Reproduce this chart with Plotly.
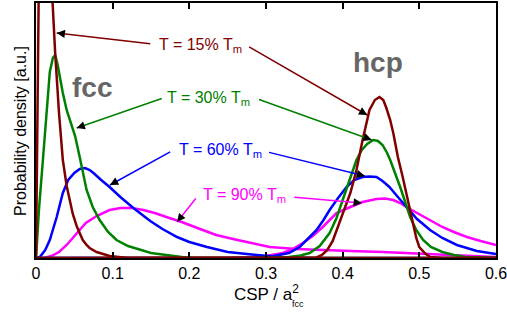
import math
import plotly.graph_objects as go

# ---------------- data (arbitrary density units) ----------------
# T = 15% Tm
red_fcc_x = [0, 0.002, 0.004, 0.007, 0.010, 0.014, 0.018, 0.021, 0.025, 0.030, 0.035, 0.040, 0.044, 0.048, 0.053, 0.057, 0.061, 0.066, 0.070, 0.079, 0.088, 0.096, 0.12, 0.6]
red_fcc_y = [0, 150, 300, 380, 400, 370, 310, 255, 205, 145, 98, 72, 57, 44, 32, 25, 18, 13, 10, 6, 3.5, 2, 0, 0]
red_hcp_x = [0, 0.35, 0.366, 0.373, 0.38, 0.387, 0.394, 0.402, 0.41, 0.418, 0.426, 0.435, 0.442, 0.448, 0.453, 0.457, 0.462, 0.466, 0.472, 0.478, 0.483, 0.488, 0.492, 0.496, 0.50, 0.507, 0.514, 0.53, 0.6]
red_hcp_y = [0, 0, 0.5, 3, 8, 17, 31, 47, 65, 88, 118, 148, 158, 161, 158, 150, 138, 125, 101, 82, 65, 46, 31, 20, 11, 5, 1, 0, 0]

# T = 30% Tm
green_fcc_x = [0, 0.004, 0.009, 0.014, 0.018, 0.022, 0.025, 0.028, 0.031, 0.035, 0.040, 0.045, 0.051, 0.057, 0.062, 0.066, 0.074, 0.083, 0.094, 0.105, 0.12, 0.136, 0.15, 0.17, 0.2, 0.6]
green_fcc_y = [0, 50, 98, 150, 186, 200, 203, 194, 181, 165, 148, 136, 122, 101, 82, 68, 51, 38, 26, 18, 12, 8, 5, 3, 0, 0]
green_hcp_x = [0, 0.31, 0.33, 0.345, 0.357, 0.37, 0.383, 0.392, 0.40, 0.41, 0.418, 0.425, 0.432, 0.44, 0.446, 0.452, 0.458, 0.462, 0.468, 0.475, 0.482, 0.488, 0.496, 0.505, 0.515, 0.53, 0.545, 0.56, 0.6]
green_hcp_y = [0, 0, 1, 2.5, 5, 12, 25, 40, 58, 80, 98, 108, 114, 118, 117, 113, 105, 98, 86, 71, 55, 41, 28, 18, 11, 6, 3, 1, 0]

# T = 60% Tm
blue_fcc_x = [0, 0.005, 0.012, 0.018, 0.027, 0.035, 0.042, 0.050, 0.057, 0.064, 0.070, 0.075, 0.085, 0.096, 0.11, 0.127, 0.149, 0.165, 0.184, 0.2, 0.223, 0.25, 0.288, 0.32, 0.36, 0.6]
blue_fcc_y = [0, 1, 8, 18, 41, 65, 78, 85, 89, 90, 88, 85, 78, 71, 61, 50, 37, 29, 21, 16, 11, 6, 3, 1, 0, 0]
blue_hcp_x = [0, 0.28, 0.31, 0.33, 0.344, 0.355, 0.366, 0.375, 0.383, 0.394, 0.405, 0.415, 0.426, 0.435, 0.444, 0.452, 0.461, 0.472, 0.483, 0.497, 0.514, 0.53, 0.549, 0.575, 0.6]
blue_hcp_y = [0, 0, 2, 5, 11, 19, 28, 38, 48, 60, 71, 78, 81, 81.5, 81, 77, 71, 61, 51, 39, 28, 20, 13, 7, 4]

# T = 90% Tm
mag_fcc_x = [0, 0.01, 0.02, 0.03, 0.04, 0.053, 0.065, 0.079, 0.096, 0.11, 0.125, 0.14, 0.155, 0.17, 0.19, 0.214, 0.235, 0.257, 0.28, 0.305, 0.34, 0.366, 0.41, 0.452, 0.5, 0.54, 0.6]
mag_fcc_y = [0, 0, 2, 6, 13, 25, 35, 42, 48, 50, 50, 48, 45, 41, 36, 29, 23, 19, 15, 11, 9, 8, 7, 6, 4, 3, 1]
mag_hcp_x = [0, 0.25, 0.28, 0.30, 0.322, 0.335, 0.348, 0.361, 0.374, 0.383, 0.392, 0.41, 0.426, 0.444, 0.455, 0.466, 0.475, 0.483, 0.495, 0.505, 0.518, 0.53, 0.545, 0.562, 0.58, 0.6]
mag_hcp_y = [0, 0, 1, 2, 5, 9, 15, 22, 31, 38, 45, 51, 56, 59, 59.5, 58, 55, 51, 46, 41, 36, 31, 26, 21, 17, 13]

series_names = ["T = 15% T<sub>m</sub>", "T = 30% T<sub>m</sub>", "T = 60% T<sub>m</sub>", "T = 90% T<sub>m</sub>"]
series_colors = ["#800000", "#008000", "#0000ff", "#ff00ff"]

# label positions (data coords) and arrow targets: (tail, tip)
label_pos = [(0.214, 213), (0.2256, 160), (0.240, 108), (0.2725, 63)]
arrows = [
    [((0.151, 214), (0.027, 225)), ((0.276, 212), (0.432, 143))],
    [((0.166, 160), (0.053, 130)), ((0.289, 159), (0.438, 118))],
    [((0.177, 107), (0.0965, 73)), ((0.302, 106), (0.429, 82))],
    [((0.210, 61), (0.184, 36)), ((0.335, 61), (0.425, 55))],
]

x_ticks = [0, 0.1, 0.2, 0.3, 0.4, 0.5, 0.6]
x_range = [0, 0.6]
y_range = [0, 255]

# ---------------- figure ----------------
W, H = 507, 320
ML, MR, MT, MB = 36, 11, 3, 62
FONT = "Liberation Sans, Arial, sans-serif"

fig = go.Figure()
curves = [
    (red_fcc_x, red_fcc_y, red_hcp_x, red_hcp_y),
    (green_fcc_x, green_fcc_y, green_hcp_x, green_hcp_y),
    (blue_fcc_x, blue_fcc_y, blue_hcp_x, blue_hcp_y),
    (mag_fcc_x, mag_fcc_y, mag_hcp_x, mag_hcp_y),
]
# draw in reverse so red is on top
for i in reversed(range(4)):
    fx, fy, hx, hy = curves[i]
    for xs, ys in ((fx, fy), (hx, hy)):
        fig.add_trace(go.Scatter(x=xs, y=ys, mode="lines",
                                 line=dict(color=series_colors[i], width=2.5),
                                 showlegend=False, hoverinfo="skip"))

ann = []
pw = W - ML - MR
ph = H - MT - MB
sx = pw / (x_range[1] - x_range[0])
sy = ph / (y_range[1] - y_range[0])
for i in range(4):
    lx, ly = label_pos[i]
    ann.append(dict(x=lx, y=ly, xref="x", yref="y", text=series_names[i], showarrow=False,
                    font=dict(family=FONT, size=16, color=series_colors[i])))
    for (tail, tip) in arrows[i]:
        ann.append(dict(x=tip[0], y=tip[1], ax=tail[0], ay=tail[1], xref="x", yref="y",
                        axref="x", ayref="y", text="", showarrow=True, arrowhead=0,
                        arrowwidth=1.5, arrowcolor=series_colors[i]))
        dx = (tail[0] - tip[0]) * sx
        dy = -(tail[1] - tip[1]) * sy
        n = math.hypot(dx, dy)
        ann.append(dict(x=tip[0], y=tip[1], ax=dx / n * 9, ay=dy / n * 9, xref="x", yref="y",
                        text="", showarrow=True, arrowhead=2, arrowsize=1.1,
                        arrowwidth=1.5, arrowcolor="black"))

ann.append(dict(x=0.073, y=171, xref="x", yref="y", text="<b>fcc</b>", showarrow=False,
                font=dict(family=FONT, size=28, color="#666666")))
ann.append(dict(x=0.446, y=196, xref="x", yref="y", text="<b>hcp</b>", showarrow=False,
                font=dict(family=FONT, size=28, color="#666666")))
# axis titles as annotations
ann.append(dict(x=(266 - ML) / pw, y=(H - MB - 293) / ph, xref="paper", yref="paper",
                text="CSP / a<sup>2</sup>", showarrow=False, xanchor="center", yanchor="middle",
                font=dict(family=FONT, size=17, color="black")))
ann.append(dict(x=(298 - ML) / pw, y=(H - MB - 304) / ph, xref="paper", yref="paper", text="fcc",
                showarrow=False, xanchor="center", yanchor="middle",
                font=dict(family=FONT, size=9, color="black")))
ann.append(dict(x=(20 - ML) / pw, y=(H - MB - 131) / ph, xref="paper", yref="paper",
                text="Probability density [a.u.]", textangle=-90, showarrow=False,
                xanchor="center", yanchor="middle",
                font=dict(family=FONT, size=16, color="black")))

fig.update_layout(
    width=W, height=H,
    margin=dict(l=ML, r=MR, t=MT, b=MB),
    paper_bgcolor="white", plot_bgcolor="white",
    font=dict(family=FONT, size=16, color="black"),
    annotations=ann,
    xaxis=dict(range=[x_range[0], x_range[1] + 1e-6], tickvals=x_ticks,
               ticktext=[f"{v:g}" for v in x_ticks], ticklabeloverflow="allow",
               ticks="inside", ticklen=6, tickwidth=1.5, tickcolor="black",
               showline=True, linewidth=2, linecolor="black", mirror="ticks",
               showgrid=False, zeroline=False, tickfont=dict(size=16), automargin=False),
    yaxis=dict(range=y_range, showticklabels=False, ticks="",
               showline=True, linewidth=2, linecolor="black", mirror=True,
               showgrid=False, zeroline=False, automargin=False),
)

fig.write_html("out.html", config={"displayModeBar": False},
               post_script="document.body.style.margin='0px';")
